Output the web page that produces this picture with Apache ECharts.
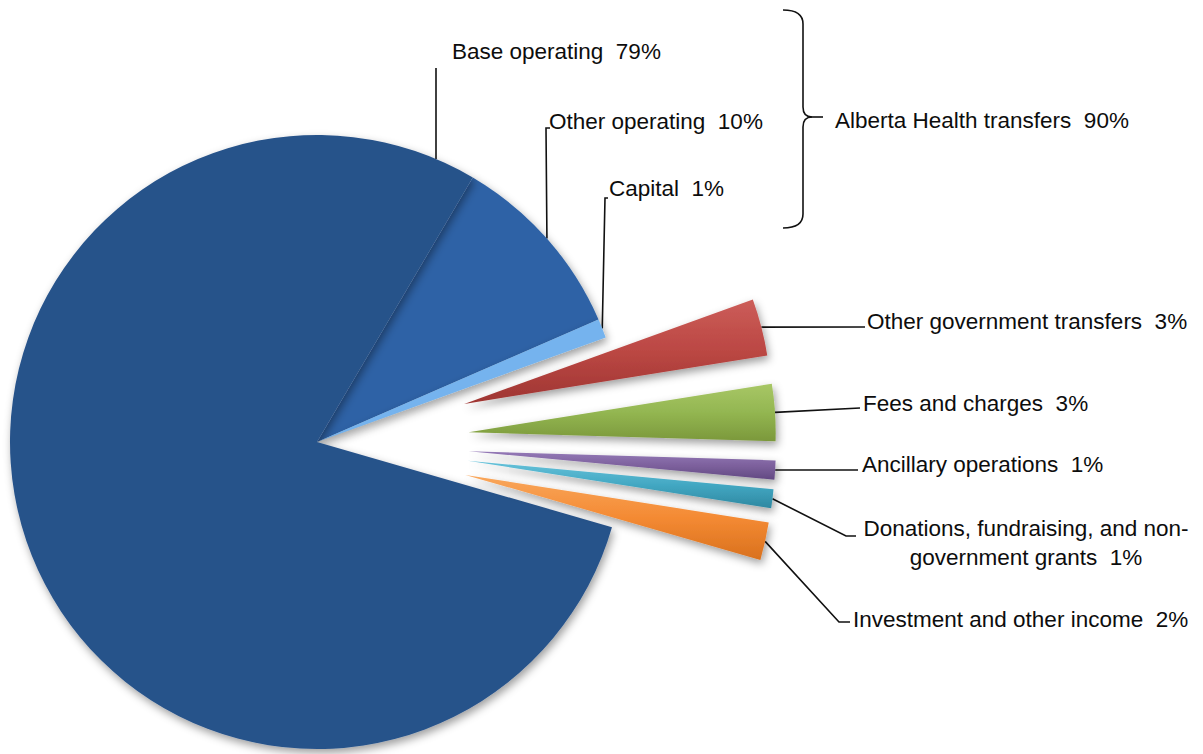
<!DOCTYPE html>
<html>
<head>
<meta charset="utf-8">
<script src="https://cdn.jsdelivr.net/npm/echarts@6/dist/echarts.min.js"></script>
<style>
  html, body { margin: 0; padding: 0; background: #ffffff; }
  #chart { width: 1203px; height: 754px; }
</style>
</head>
<body>
<div id="chart"></div>
<script>
// Revenue by source, share of total (%), listed clockwise from the top-right edge
const categories = [
  'Other operating',
  'Capital',
  'Other government transfers',
  'Fees and charges',
  'Ancillary operations',
  'Donations, fundraising, and non-government grants',
  'Investment and other income',
  'Base operating'
];
const shares = [10, 1, 3, 3, 1, 1, 2, 79];

// Printed label names (long one wraps onto two lines)
const labelNames = [
  'Other operating',
  'Capital',
  'Other government transfers',
  'Fees and charges',
  'Ancillary operations',
  'Donations, fundraising, and non-\ngovernment grants',
  'Investment and other income',
  'Base operating'
];

// Slices bracketed together as one funding source
const groupName = 'Alberta Health transfers';
const groupMembers = ['Base operating', 'Other operating', 'Capital'];

// Slices pulled out of the pie
const detached = [
  'Other government transfers',
  'Fees and charges',
  'Ancillary operations',
  'Donations, fundraising, and non-government grants',
  'Investment and other income'
];

// ---- geometry ----
const CX = 317, CY = 442, R = 307;
const START = 59.5;        // echarts start angle (deg, counter-clockwise from east)
const EXPLODE = 152;       // pull-out distance for detached slices
const FONT = "'Liberation Sans', Arial, Helvetica, sans-serif";
const FONT_SIZE = 22.5;
const rad = d => d * Math.PI / 180;

// ---- colours ----
function vgrad(top, mid, bottom) {
  return { type: 'linear', x: 0, y: 0, x2: 0, y2: 1,
    colorStops: [{ offset: 0, color: top }, { offset: 0.5, color: mid }, { offset: 1, color: bottom }] };
}
const sliceColors = {
  'Other operating': '#2e62a6',
  'Capital': '#74b3ee',
  'Other government transfers': vgrad('#cc5d59', '#bb4743', '#9e3532'),
  'Fees and charges': vgrad('#a8c766', '#93b651', '#7b983b'),
  'Ancillary operations': vgrad('#9479b7', '#7d619d', '#624882'),
  'Donations, fundraising, and non-government grants': vgrad('#66c2da', '#43a8c3', '#2e88a1'),
  'Investment and other income': vgrad('#f9a75c', '#f48a33', '#d9711e'),
  'Base operating': '#28538a'
};

// ---- label placement (text anchor + leader elbow points) ----
const labelPlace = {
  'Base operating':   { x: 452, y: 51,  align: 'left', leaderX: 436, elbow: [[436, 68]] },
  'Other operating':  { x: 549, y: 121, align: 'left', elbow: [[546, 128], [550, 128]] },
  'Capital':          { x: 609, y: 188, align: 'left', elbow: [[605, 198], [608, 198]] },
  'Other government transfers': { x: 867, y: 321, align: 'left', elbow: [[865, 327]] },
  'Fees and charges': { x: 863, y: 403, align: 'left', elbow: [[860, 408]] },
  'Ancillary operations': { x: 862, y: 464, align: 'left', elbow: [[858, 470]] },
  'Donations, fundraising, and non-government grants': { x: 1026, y: 543, align: 'center', elbow: [[846, 536], [856, 536]] },
  'Investment and other income': { x: 853, y: 619, align: 'left', elbow: [[839, 622], [850, 622]] }
};

// ---- slice angles (clockwise from 12 o'clock) ----
const total = shares.reduce((a, b) => a + b, 0);
const midAngles = [];
{
  let acc = 90 - START;
  shares.forEach(v => {
    const span = v / total * 360;
    midAngles.push(acc + span / 2);
    acc += span;
  });
}
function sliceCenter(i) {
  const name = categories[i];
  const d = detached.includes(name) ? EXPLODE : 0;
  const a = rad(midAngles[i]);
  return [CX + d * Math.sin(a), CY - d * Math.cos(a)];
}
function arcMid(i) {
  const c = sliceCenter(i);
  const a = rad(midAngles[i]);
  return [c[0] + R * Math.sin(a), c[1] - R * Math.cos(a)];
}

// ---- series: one for the body of the pie, one per detached slice ----
function buildSeries(visibleNames, center) {
  return {
    type: 'pie',
    center: center,
    radius: R,
    startAngle: START,
    clockwise: true,
    avoidLabelOverlap: false,
    silent: true,
    animation: false,
    emphasis: { disabled: true },
    itemStyle: {
      borderWidth: 0,
      shadowBlur: 8,
      shadowOffsetX: 2,
      shadowOffsetY: 4,
      shadowColor: 'rgba(0,0,0,0.38)'
    },
    label: {
      position: 'outside',
      color: '#0d0d0d',
      fontSize: FONT_SIZE,
      fontFamily: FONT,
      lineHeight: 29,
      formatter: p => labelNames[p.dataIndex] + '  ' + p.value + '%'
    },
    labelLine: {
      show: true,
      smooth: false,
      lineStyle: { color: '#111111', width: 1.6 }
    },
    labelLayout: p => {
      const name = categories[p.dataIndex];
      if (!visibleNames.includes(name)) return {};
      const lp = labelPlace[name];
      let start;
      if (lp.leaderX != null) {
        start = [lp.leaderX, CY - Math.sqrt(R * R - (lp.leaderX - CX) * (lp.leaderX - CX))];
      } else {
        start = arcMid(p.dataIndex);
      }
      const pts = [start].concat(lp.elbow);
      while (pts.length < 3) pts.push(pts[pts.length - 1].slice());
      return { x: lp.x, y: lp.y, align: lp.align, verticalAlign: 'middle', labelLinePoints: pts };
    },
    data: categories.map((name, i) => {
      const on = visibleNames.includes(name);
      return {
        name: name,
        value: shares[i],
        itemStyle: on ? { color: sliceColors[name] }
                      : { color: 'rgba(0,0,0,0)', opacity: 0, shadowBlur: 0, shadowColor: 'rgba(0,0,0,0)' },
        label: { show: on },
        labelLine: { show: on }
      };
    })
  };
}

const seriesList = [];
seriesList.push(buildSeries(categories.filter(n => !detached.includes(n)), [CX, CY]));
detached.forEach(name => {
  const i = categories.indexOf(name);
  seriesList.push(buildSeries([name], sliceCenter(i)));
});

// ---- group bracket ----
const groupShare = groupMembers.reduce((s, n) => s + shares[categories.indexOf(n)], 0);
const BR = { x0: 783, x1: 803, top: 10, bottom: 228, mid: 117, tip: 823 };
const braceStroke = { stroke: '#111111', lineWidth: 1.6, fill: 'none' };
const braceParts = [
  { type: 'bezierCurve', shape: { x1: BR.x0, y1: BR.top, cpx1: BR.x1, cpy1: BR.top, x2: BR.x1, y2: BR.top + 14 } },
  { type: 'line', shape: { x1: BR.x1, y1: BR.top + 14, x2: BR.x1, y2: BR.mid - 10 } },
  { type: 'bezierCurve', shape: { x1: BR.x1, y1: BR.mid - 10, cpx1: BR.x1, cpy1: BR.mid, x2: BR.x1 + 9, y2: BR.mid } },
  { type: 'bezierCurve', shape: { x1: BR.x1 + 9, y1: BR.mid, cpx1: BR.x1, cpy1: BR.mid, x2: BR.x1, y2: BR.mid + 10 } },
  { type: 'line', shape: { x1: BR.x1, y1: BR.mid + 10, x2: BR.x1, y2: BR.bottom - 14 } },
  { type: 'bezierCurve', shape: { x1: BR.x1, y1: BR.bottom - 14, cpx1: BR.x1, cpy1: BR.bottom, x2: BR.x0, y2: BR.bottom } },
  { type: 'line', shape: { x1: BR.x1 + 9, y1: BR.mid, x2: BR.tip, y2: BR.mid } }
].map(p => Object.assign(p, { style: braceStroke, silent: true }));

const chart = echarts.init(document.getElementById('chart'), null, { renderer: 'svg' });
chart.setOption({
  backgroundColor: '#ffffff',
  animation: false,
  series: seriesList,
  graphic: braceParts.concat([
    {
      type: 'text',
      x: 835,
      y: 120,
      style: {
        text: groupName + '  ' + groupShare + '%',
        fill: '#0d0d0d',
        fontSize: FONT_SIZE,
        fontFamily: FONT,
        verticalAlign: 'middle',
        align: 'left'
      },
      silent: true
    }
  ])
});
</script>
</body>
</html>
